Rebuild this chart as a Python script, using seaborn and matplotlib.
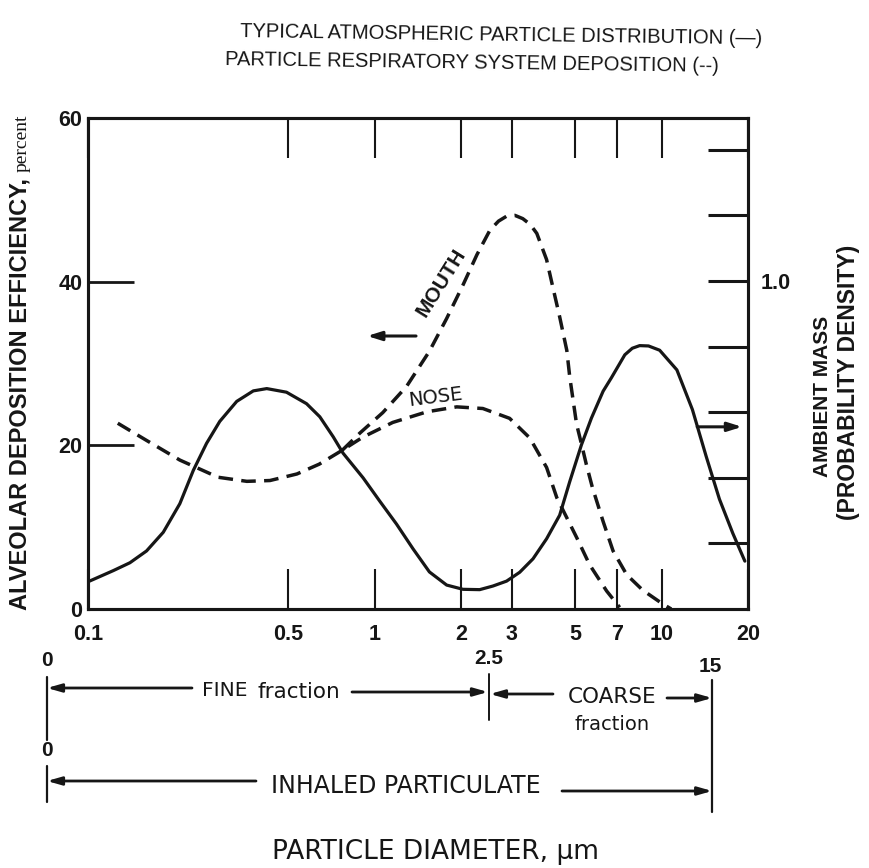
import matplotlib
matplotlib.use("Agg")
import matplotlib.pyplot as plt
from matplotlib.ticker import FixedLocator, FixedFormatter, NullLocator
import pandas as pd
import seaborn as sns

# ---- data -------------------------------------------------------------
# Typical atmospheric particle mass distribution (right axis)
ambient_diameter = [0.10, 0.1225, 0.140, 0.160, 0.183, 0.209, 0.233, 0.259, 0.288,
                    0.330, 0.377, 0.420, 0.492, 0.578, 0.643, 0.716, 0.775, 0.910,
                    1.04, 1.19, 1.36, 1.55, 1.78, 2.03, 2.32, 2.58, 2.88, 3.20,
                    3.56, 3.97, 4.41, 4.78, 5.25, 5.69, 6.25, 6.68, 7.44, 7.9,
                    8.38, 9.0, 9.84, 11.3, 12.8, 14.3, 15.9, 17.7, 19.5]
ambient_mass = [0.083, 0.117, 0.141, 0.177, 0.234, 0.321, 0.423, 0.505, 0.572,
                0.633, 0.665, 0.672, 0.661, 0.626, 0.586, 0.525, 0.475, 0.400,
                0.329, 0.259, 0.183, 0.113, 0.073, 0.060, 0.059, 0.070, 0.085, 0.112,
                0.153, 0.214, 0.286, 0.388, 0.500, 0.582, 0.664, 0.705, 0.775, 0.795,
                0.803, 0.802, 0.789, 0.729, 0.608, 0.465, 0.335, 0.231, 0.146]

# Alveolar deposition efficiency, nose breathing (left axis, percent)
nose_diameter = [0.127, 0.160, 0.209, 0.284, 0.358, 0.431, 0.535, 0.64, 0.77,
                 0.908, 1.155, 1.52, 1.93, 2.38, 2.95, 3.47, 3.97, 4.31, 5.06,
                 5.61, 6.43, 7.14]
nose_eff = [22.7, 20.6, 18.2, 16.1, 15.6, 15.7, 16.5, 17.7, 19.4,
            21.0, 22.8, 24.1, 24.7, 24.5, 23.3, 20.9, 17.3, 13.6, 8.7,
            5.4, 2.2, 0.2]

# Alveolar deposition efficiency, mouth breathing (left axis, percent)
mouth_diameter = [0.77, 0.887, 1.066, 1.29, 1.55, 1.78, 2.03, 2.27, 2.52, 2.70,
                  2.88, 3.08, 3.28, 3.48, 3.67, 3.97, 4.17, 4.41, 4.67, 4.78,
                  5.05, 5.25, 5.46, 5.73, 6.25, 6.77, 7.55, 8.59, 10.1, 10.8]
mouth_eff = [19.4, 21.5, 24.0, 27.2, 31.5, 35.5, 39.6, 43.3, 46.3, 47.4,
             48.0, 48.1, 47.7, 47.0, 45.9, 42.7, 39.4, 35.7, 31.6, 28.4,
             22.6, 20.2, 17.7, 14.9, 10.7, 7.1, 4.2, 2.3, 0.6, 0.0]

x_ticks = [0.1, 0.5, 1, 2, 3, 5, 7, 10, 20]
x_tick_labels = ["0.1", "0.5", "1", "2", "3", "5", "7", "10", "20"]
left_ticks = [0, 20, 40, 60]
left_tick_labels = ["0", "20", "40", "60"]
right_ticks = [0.2, 0.4, 0.6, 0.8, 1.0, 1.2, 1.4]
right_tick_labels = ["", "", "", "", "1.0", "", ""]

ambient = pd.DataFrame({"diameter": ambient_diameter, "mass": ambient_mass})
nose = pd.DataFrame({"diameter": nose_diameter, "efficiency": nose_eff})
mouth = pd.DataFrame({"diameter": mouth_diameter, "efficiency": mouth_eff})

# ---- style ------------------------------------------------------------
sns.set_theme(style="white")
BOLD = ["Liberation Sans", "DejaVu Sans"]
WIDE = ["DejaVu Sans"]
plt.rcParams["font.family"] = BOLD
plt.rcParams["font.weight"] = "bold"
INK = "#161616"

W, H = 869, 868
L, R, T, B = 88, 748, 118, 609

fig = plt.figure(figsize=(W / 100, H / 100), dpi=100)
fig.patch.set_facecolor("white")
ax = fig.add_axes([L / W, 1 - B / H, (R - L) / W, (B - T) / H])
ax.set_xscale("log")
ax2 = ax.twinx()

DASH = (0, (4.2, 2.4))
sns.lineplot(data=nose, x="diameter", y="efficiency", ax=ax, color=INK,
             lw=2.5, linestyle=DASH, estimator=None, sort=False)
sns.lineplot(data=mouth, x="diameter", y="efficiency", ax=ax, color=INK,
             lw=2.5, linestyle=DASH, estimator=None, sort=False)
sns.lineplot(data=ambient, x="diameter", y="mass", ax=ax2, color=INK,
             lw=2.3, estimator=None, sort=False)

ax.set_xlim(0.1, 20)
ax.set_ylim(0, 60)
ax2.set_ylim(0, 1.497)
for a in (ax, ax2):
    a.set_xlabel("")
    a.set_ylabel("")
    for s in a.spines.values():
        s.set_visible(True)
        s.set_linewidth(2.2)
        s.set_color(INK)

ax.xaxis.set_major_locator(FixedLocator(x_ticks))
ax.xaxis.set_major_formatter(FixedFormatter(x_tick_labels))
ax.xaxis.set_minor_locator(NullLocator())
ax.yaxis.set_major_locator(FixedLocator(left_ticks))
ax.yaxis.set_major_formatter(FixedFormatter(left_tick_labels))
ax2.yaxis.set_major_locator(FixedLocator(right_ticks))
ax2.yaxis.set_major_formatter(FixedFormatter(right_tick_labels))

ax.tick_params(axis="x", which="major", direction="in", length=29, width=1.5,
               color=INK, top=True, bottom=True, labelsize=15.5, pad=11,
               labelcolor=INK)
ax.tick_params(axis="y", direction="in", length=33, width=2.0, color=INK,
               left=True, right=False, labelsize=15.5, pad=4, labelcolor=INK)
ax2.tick_params(axis="y", direction="in", length=29, width=2.2, color=INK,
                right=True, left=False, labelsize=15.5, pad=9, labelcolor=INK)

# ---- in-plot annotations ---------------------------------------------
ax.text(0.535, 0.664, "MOUTH", transform=ax.transAxes, rotation=58,
        ha="center", va="center", fontsize=15, color=INK)
ax.text(0.527, 0.432, "NOSE", transform=ax.transAxes, rotation=7,
        ha="center", va="center", fontsize=14, fontweight="normal", color=INK,
        family=WIDE)
arrow = dict(arrowstyle="-|>,head_length=0.7,head_width=0.22", lw=2.2,
             color=INK, shrinkA=0, shrinkB=0)
ax.annotate("", xy=(0.423, 0.556), xytext=(0.497, 0.556),
            xycoords="axes fraction", textcoords="axes fraction", arrowprops=arrow)
ax.annotate("", xy=(0.991, 0.371), xytext=(0.923, 0.371),
            xycoords="axes fraction", textcoords="axes fraction", arrowprops=arrow)

# ---- axis titles ------------------------------------------------------
ylab = fig.text(20 / W, 1 - 610 / H, "ALVEOLAR DEPOSITION EFFICIENCY,", rotation=90,
                ha="center", va="bottom", fontsize=15, color=INK)
pct = fig.text(22 / W, 1 - 176 / H, "percent", rotation=90, ha="center",
               va="bottom", fontsize=14, fontweight="normal",
               family=["Liberation Serif", "DejaVu Serif"], color=INK)
fig.text(822 / W, 1 - 396 / H, "AMBIENT MASS", rotation=90, ha="center",
         va="center", fontsize=15, color=INK)
fig.text(849 / W, 1 - 382 / H, "(PROBABILITY DENSITY)", rotation=90, ha="center",
         va="center", fontsize=16.5, color=INK)

fig.text(240 / W, 1 - 35 / H, "TYPICAL ATMOSPHERIC PARTICLE DISTRIBUTION (\u2014)",
         ha="left", va="center", fontsize=14.5, fontweight="normal",
         rotation=-0.8, color=INK)
fig.text(225 / W, 1 - 63 / H, "PARTICLE RESPIRATORY SYSTEM DEPOSITION (--)",
         ha="left", va="center", fontsize=14.5, fontweight="normal",
         rotation=-0.8, color=INK)

# ---- size-fraction scheme below the x axis ---------------------------
ov = fig.add_axes([0, 0, 1, 1], zorder=-1)
ov.set_xlim(0, W)
ov.set_ylim(H, 0)
ov.axis("off")

x25 = ax.transData.transform((2.5, 1))[0]
x15 = ax.transData.transform((15, 1))[0]
x0 = 47

def hline_arrow(x_from, x_to, y):
    ov.annotate("", xy=(x_to, y), xytext=(x_from, y), xycoords="data",
                arrowprops=dict(arrowstyle="-|>,head_length=0.7,head_width=0.2",
                                lw=2.0, color=INK, shrinkA=0, shrinkB=0))

ov.plot([x0, x0], [677, 740], color=INK, lw=1.6)
ov.plot([x0, x0], [766, 802], color=INK, lw=1.6)
ov.plot([x25, x25], [674, 720], color=INK, lw=1.4)
ov.plot([x15, x15], [680, 812], color=INK, lw=1.6)

ov.text(x0, 661, "0", ha="center", va="center", fontsize=15, color=INK)
ov.text(x0, 751, "0", ha="center", va="center", fontsize=15, color=INK)
ov.text(x25, 659, "2.5", ha="center", va="center", fontsize=15, color=INK)
ov.text(x15 - 2, 667, "15", ha="center", va="center", fontsize=15, color=INK)

hline_arrow(192, x0, 688)
ov.text(202, 691, "FINE", ha="left", va="center", fontsize=14.5, color=INK,
        family=WIDE, fontweight="normal")
ov.text(257, 692, "fraction", ha="left", va="center", fontsize=15.5, color=INK,
        family=WIDE, fontweight="normal")
hline_arrow(352, x25 - 1, 692)
hline_arrow(553, x25 + 1, 694)
ov.text(612, 697, "COARSE", ha="center", va="center", fontsize=15.5, color=INK,
        family=WIDE, fontweight="normal")
hline_arrow(667, x15, 698)
ov.text(612, 725, "fraction", ha="center", va="center", fontsize=14, color=INK,
        family=WIDE, fontweight="normal")

hline_arrow(256, x0, 781)
ov.text(406, 786, "INHALED PARTICULATE", ha="center", va="center", fontsize=17,
        color=INK, family=WIDE, fontweight="normal")
hline_arrow(562, x15, 791)

ov.text(435, 852, "PARTICLE DIAMETER, \u03bcm", ha="center", va="center",
        fontsize=19, color=INK, family=WIDE, fontweight="normal")

# Fit the left axis title to the height of the plot frame, then follow it
# with the lowercase unit.
fig.canvas.draw()
renderer = fig.canvas.get_renderer()
span = ylab.get_window_extent(renderer).height
ylab.set_fontsize(ylab.get_fontsize() * 432.0 / span)
fig.canvas.draw()
top = ylab.get_window_extent(renderer).y1
pct.set_position((22 / W, (top + 6) / H))

fig.savefig("out.png", dpi=100, facecolor="white")
